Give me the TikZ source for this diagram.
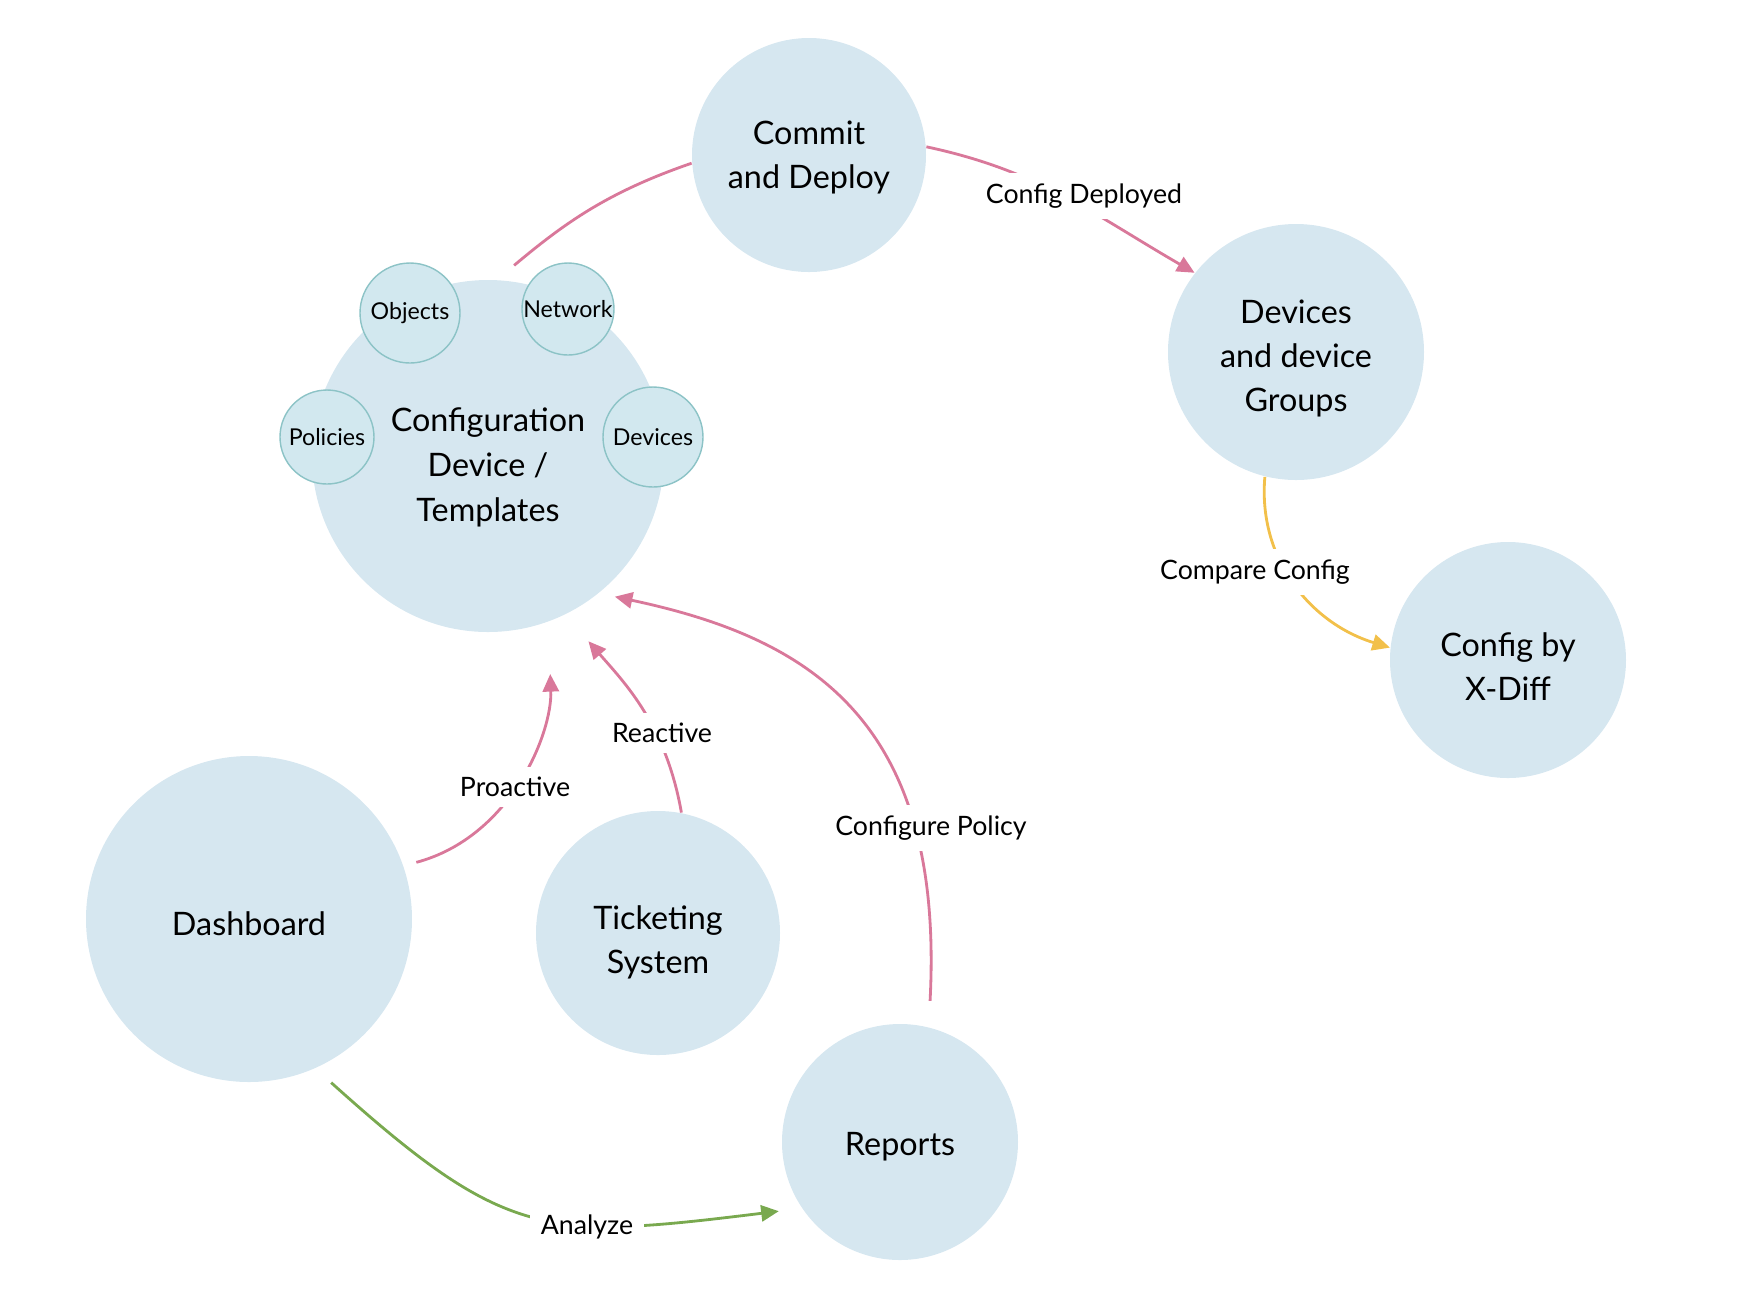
\documentclass[tikz,border=0pt]{standalone}
\usepackage{fontspec}
\setmainfont{Lato}
\usetikzlibrary{arrows.meta}
\definecolor{bubble}{HTML}{D6E7F0}
\definecolor{partfill}{HTML}{D2E8EF}
\definecolor{partline}{HTML}{8CC3C6}
\definecolor{pinkline}{HTML}{D9789A}
\definecolor{greenline}{HTML}{79A94F}
\definecolor{yellowline}{HTML}{F2C04A}
\begin{document}
\begin{tikzpicture}[x=0.1mm,y=-0.1mm]
    \tikzset{
        topic/.style={circle,fill=bubble,inner sep=0pt,align=center,font=\fontsize{9.2}{12.4}\selectfont,
            execute at begin node={\rule{0pt}{9.5pt}}},
        part/.style={circle,fill=partfill,draw=partline,line width=0.4pt,inner sep=0pt,font=\fontsize{6.6}{8}\selectfont},
        flow/.style={line width=0.8pt,-{Triangle[length=5pt,width=4.6pt]}},
        tag/.style={fill=white,inner sep=3pt,font=\fontsize{7.6}{9}\selectfont},}
    \def\lift#1{\rule{0pt}{#1}}
    \useasboundingbox (0,0) rectangle (1738,1308);
    % bubbles
    \node [topic,minimum size=35.2mm,font=\fontsize{9.2}{12.8}\selectfont] (conf) at (488,456) {\lift{13pt}Configuration\\Device /\\Templates};
    \node [topic,minimum size=23.4mm] (commit) at (809,155) {\lift{8pt}Commit\\and Deploy};
    \node [topic,minimum size=25.6mm] (dev) at (1296,352) {\lift{10.4pt}Devices\\and device\\Groups};
    \node [topic,minimum size=23.6mm] (xdiff) at (1508,660) {\lift{10.4pt}Config by\\X-Diff};
    \node [topic,minimum size=32.6mm] (dash) at (249,919) {Dashboard};
    \node [topic,minimum size=24.4mm] (ticket) at (658,933) {\lift{12pt}Ticketing\\System};
    \node [topic,minimum size=23.6mm] (reports) at (900,1142) {Reports};
    % parts of the configuration
    \node [part,minimum size=10mm] (objects) at (410,313) {Objects};
    \node [part,minimum size=9.2mm] (network) at (568,309) {Network};
    \node [part,minimum size=9.4mm] (policies) at (327,437) {Policies};
    \node [part,minimum size=10mm] (devices) at (653,437) {Devices};
    % connectors
    \draw [pinkline,line width=0.8pt,shorten <=2.2mm] (conf.87.4) to[out=40,in=199] (commit.184);
    \draw [flow,pinkline] (commit.4) to[out=-12,in=150] (dev.142);
    \draw [flow,yellowline] (dev.-104) to[out=-95,in=163] (xdiff.174);
    \draw [flow,pinkline,shorten <=1.3mm,shorten >=5.2mm] (dash.19) to[out=15,in=-88] (conf.-70);
    \draw [flow,pinkline,shorten >=3.5mm] (ticket.79) to[out=100,in=-49] (conf.-64);
    \draw [flow,pinkline,shorten <=2.6mm,shorten >=1.6mm] (reports.76.3) to[out=87,in=-12,out looseness=1.45,in looseness=1] (conf.-51.5);
    \draw [flow,greenline,shorten <=2.1mm,shorten >=2.3mm] (dash.-66) to[out=-42,in=187,looseness=1.3] (reports.214.6);
    % connector labels
    \node [tag] (deployed) at (1084,196) {Config Deployed};
    \node [tag] (compare) at (1255,572) {Compare Config};
    \node [tag] (proactive) at (515,787) {Proactive};
    \node [tag] (reactive) at (662,733) {Reactive};
    \node [tag] (policy) at (931,828) {Configure Policy};
    \node [tag] (analyze) at (587,1227) {Analyze};
\end{tikzpicture}
\end{document}
